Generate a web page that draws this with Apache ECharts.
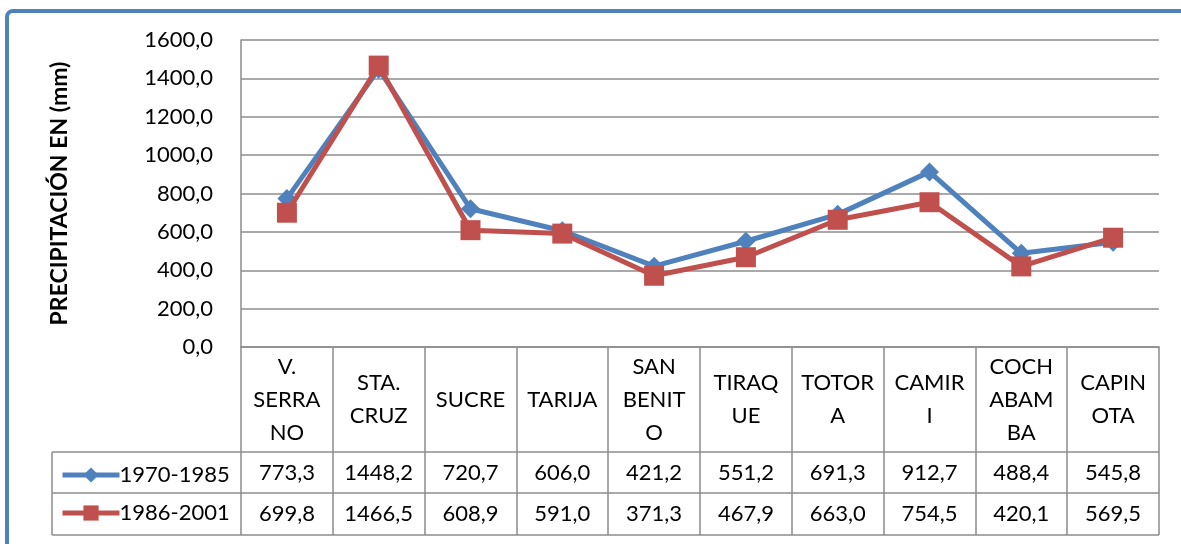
<!DOCTYPE html>
<html><head><meta charset="utf-8">
<script src="https://cdn.jsdelivr.net/npm/echarts@6/dist/echarts.min.js"></script>
<style>html,body{margin:0;padding:0;background:#fff}#c{width:1181px;height:544px}</style>
</head><body><div id="c"></div>
<script>
const categories = ['V.\nSERRA\nNO','STA.\nCRUZ','SUCRE','TARIJA','SAN\nBENIT\nO','TIRAQ\nUE','TOTOR\nA','CAMIR\nI','COCH\nABAM\nBA','CAPIN\nOTA'];
const seriesNames = ['1970-1985','1986-2001'];
const s1970 = [773.3,1448.2,720.7,606.0,421.2,551.2,691.3,912.7,488.4,545.8];
const s1986 = [699.8,1466.5,608.9,591.0,371.3,467.9,663.0,754.5,420.1,569.5];
const yTicks = {min:0,max:1600,interval:200};

const fmt = v => v.toFixed(1).replace('.', ',');
const FONT = 'Lato';
const FS = 22;
const L = 241, R = 22, T = 40, B0 = 347;
const W = 1181, H = 544;
const gridBottom = H - B0;
const rowTop1 = 452, rowTop2 = 493, rowEnd = 535, legLeft = 52;
const gray = '#8c8c8c';

const chart = echarts.init(document.getElementById('c'), null, {renderer:'canvas'});
const lineSt = {color:gray, width:1.5};
chart.setOption({
  animation:false,
  textStyle:{fontFamily:FONT},
  grid:{left:L, right:R, top:T, bottom:gridBottom, containLabel:false},
  legend:{orient:'vertical', left:55, top:459, itemGap:16, itemWidth:57, itemHeight:19,
    lineStyle:{width:5},
    textStyle:{fontFamily:FONT, fontSize:FS, color:'#000', padding:[0,0,0,-5]},
    data:seriesNames},
  xAxis:[
    {type:'category', data:categories, boundaryGap:true, position:'bottom',
     axisLine:{show:true, lineStyle:lineSt},
     axisTick:{show:true, interval:0, length:rowEnd-B0, lineStyle:lineSt},
     axisLabel:{interval:0, margin:(rowTop1-B0)/2, verticalAlign:'middle', lineHeight:33,
       fontFamily:FONT, fontSize:FS, color:'#000'}},
    {type:'category', data:s1970.map(fmt), boundaryGap:true, position:'bottom',
     axisLine:{show:false}, axisTick:{show:false},
     axisLabel:{interval:0, margin:(rowTop1+rowTop2)/2-B0, verticalAlign:'middle',
       fontFamily:FONT, fontSize:FS, color:'#000'}},
    {type:'category', data:s1986.map(fmt), boundaryGap:true, position:'bottom',
     axisLine:{show:false}, axisTick:{show:false},
     axisLabel:{interval:0, margin:(rowTop2+rowEnd)/2-B0, verticalAlign:'middle',
       fontFamily:FONT, fontSize:FS, color:'#000'}}
  ],
  yAxis:{type:'value', min:yTicks.min, max:yTicks.max, interval:yTicks.interval,
    name:'PRECIPITACIÓN EN (mm)', nameLocation:'middle', nameGap:170, nameRotate:90,
    nameTextStyle:{fontFamily:FONT, fontSize:23, fontWeight:'bold', color:'#000'},
    axisLine:{show:true, lineStyle:lineSt}, axisTick:{show:false},
    axisLabel:{formatter:fmt, margin:28, fontFamily:FONT, fontSize:FS, color:'#000'},
    splitLine:{lineStyle:{color:gray, width:1.5}}},
  series:[
    {name:seriesNames[0], type:'line', data:s1970, symbol:'diamond', symbolSize:19,
     lineStyle:{color:'#4F81BD', width:5}, itemStyle:{color:'#4F81BD'}, z:2},
    {name:seriesNames[1], type:'line', data:s1986, symbol:'rect', symbolSize:20,
     lineStyle:{color:'#C0504D', width:5}, itemStyle:{color:'#C0504D'}, z:3}
  ],
  graphic:[
    {type:'rect', shape:{x:7, y:11, width:1300, height:700, r:6}, style:{fill:null, stroke:'#4F81BD', lineWidth:4}, z:100},
    {type:'line', shape:{x1:legLeft, y1:rowTop1, x2:W-R, y2:rowTop1}, style:{stroke:gray, lineWidth:1.5}},
    {type:'line', shape:{x1:legLeft, y1:rowTop2, x2:W-R, y2:rowTop2}, style:{stroke:gray, lineWidth:1.5}},
    {type:'line', shape:{x1:legLeft, y1:rowEnd, x2:W-R, y2:rowEnd}, style:{stroke:gray, lineWidth:1.5}},
    {type:'line', shape:{x1:legLeft, y1:rowTop1, x2:legLeft, y2:rowEnd}, style:{stroke:gray, lineWidth:1.5}}
  ]
});
</script></body></html>
